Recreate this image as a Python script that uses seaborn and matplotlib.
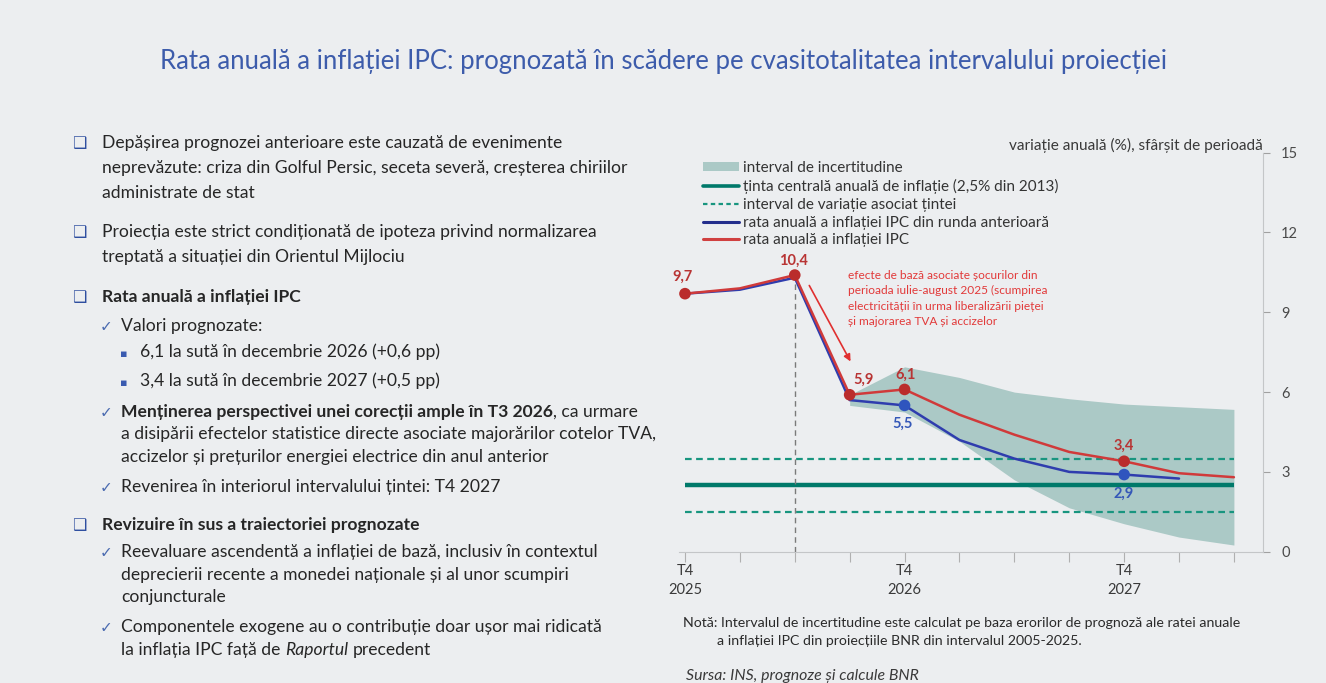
import numpy as np
import pandas as pd
import matplotlib
matplotlib.use('Agg')
import matplotlib.pyplot as plt
import seaborn as sns
from matplotlib.lines import Line2D
from matplotlib.patches import Patch
from matplotlib import font_manager

# ---- chart data ----
quarters = ['T4 2025', 'T1 2026', 'T2 2026', 'T3 2026', 'T4 2026', 'T1 2027',
            'T2 2027', 'T3 2027', 'T4 2027', 'T1 2028', 'T2 2028']
tick_text = ['T4\n2025', '', '', '', 'T4\n2026', '', '', '', 'T4\n2027', '', '']
ipc_current = [9.7, 9.9, 10.4, 5.9, 6.1, 5.15, 4.4, 3.75, 3.4, 2.95, 2.8]
ipc_previous = [9.7, 9.85, 10.3, 5.7, 5.5, 4.2, 3.5, 3.0, 2.9, 2.75]
band_start = 3
band_low = [5.5, 5.25, 4.15, 2.7, 1.65, 1.05, 0.55, 0.25]
band_high = [5.9, 6.95, 6.55, 6.0, 5.75, 5.55, 5.45, 5.35]
target_central = 2.5
target_range = [1.5, 3.5]
current_labelled = [0, 2, 3, 4, 8]
previous_labelled = [4, 8]
projection_mark = 2

legend_labels = ['interval de incertitudine',
                 'ținta centrală anuală de inflație (2,5% din 2013)',
                 'interval de variație asociat țintei',
                 'rata anuală a inflației IPC din runda anterioară',
                 'rata anuală a inflației IPC']

title = 'Rata anuală a inflației IPC: prognozată în scădere pe cvasitotalitatea intervalului proiecției'
note_text = 'efecte de bază asociate șocurilor din\nperioada iulie-august 2025 (scumpirea\nelectricității în urma liberalizării pieței\nși majorarea TVA și accizelor'

# left column: (bullet, y, [(text, weight, style), ...])
body = [
    ('sq', 143, [('Depășirea prognozei anterioare este cauzată de evenimente', 'normal', 'normal')]),
    ('c0', 168, [('neprevăzute: criza din Golful Persic, seceta severă, creșterea chiriilor', 'normal', 'normal')]),
    ('c0', 193, [('administrate de stat', 'normal', 'normal')]),
    ('sq', 232, [('Proiecția este strict condiționată de ipoteza privind normalizarea', 'normal', 'normal')]),
    ('c0', 257, [('treptată a situației din Orientul Mijlociu', 'normal', 'normal')]),
    ('sq', 297, [('Rata anuală a inflației IPC', 'bold', 'normal')]),
    ('ck', 326, [('Valori prognozate:', 'normal', 'normal')]),
    ('dot', 352, [('6,1 la sută în decembrie 2026 (+0,6 pp)', 'normal', 'normal')]),
    ('dot', 381, [('3,4 la sută în decembrie 2027 (+0,5 pp)', 'normal', 'normal')]),
    ('ck', 412, [('Menținerea perspectivei unei corecții ample în T3 2026', 'bold', 'normal'),
                 (', ca urmare', 'normal', 'normal')]),
    ('c1', 434, [('a disipării efectelor statistice directe asociate majorărilor cotelor TVA,', 'normal', 'normal')]),
    ('c1', 457, [('accizelor și prețurilor energiei electrice din anul anterior', 'normal', 'normal')]),
    ('ck', 487, [('Revenirea în interiorul intervalului țintei: T4 2027', 'normal', 'normal')]),
    ('sq', 525, [('Revizuire în sus a traiectoriei prognozate', 'bold', 'normal')]),
    ('ck', 552, [('Reevaluare ascendentă a inflației de bază, inclusiv în contextul', 'normal', 'normal')]),
    ('c1', 575, [('deprecierii recente a monedei naționale și al unor scumpiri', 'normal', 'normal')]),
    ('c1', 597, [('conjuncturale', 'normal', 'normal')]),
    ('ck', 627, [('Componentele exogene au o contribuție doar ușor mai ridicată', 'normal', 'normal')]),
    ('c1', 650, [('la inflația IPC față de', 'normal', 'normal'), ('Raportul', 'normal', 'italic'),
                 ('precedent', 'normal', 'normal')]),
]

W, H = 1326, 683
BG = '#ECEEF0'
BAND = '#ABC9C6'
TEAL = '#00796A'
TEAL_D = '#18957F'
RED = '#D03A3A'
RED_M = '#BA2C2C'
BLUE = '#2F3DAE'
BLUE_M = '#2F55BE'

sns.set_theme(style='white')
plt.rcParams['font.family'] = ['Lato', 'DejaVu Sans']
installed = {f.name for f in font_manager.fontManager.ttflist}
narrow = 'Liberation Sans Narrow' if 'Liberation Sans Narrow' in installed else 'Lato'


def fx(px):
    return px / W


def fy(py):
    return 1 - py / H


fig = plt.figure(figsize=(W / 100, H / 100), dpi=100, facecolor=BG)

# ---- chart ----
ax = fig.add_axes([fx(679.5), fy(551.7), fx(1263) - fx(679.5), fy(152.7) - fy(551.7)])
ax.set_facecolor('none')

pos = np.arange(len(quarters))
ax.fill_between(pos[band_start:band_start + len(band_low)], band_low, band_high,
                color=BAND, lw=0, zorder=1)
ax.hlines(target_central, pos[0], pos[-1], color=TEAL, lw=3.2, zorder=2)
for v in target_range:
    ax.hlines(v, pos[0], pos[-1], color=TEAL_D, lw=1.6, linestyles=(0, (3, 2)), zorder=2)
ax.vlines(pos[projection_mark], 0, ipc_current[projection_mark], colors='#7A7A7A',
          lw=1, linestyles=(0, (4, 3)), zorder=3)

df_cur = pd.DataFrame({'pos': pos[:len(ipc_current)], 'val': ipc_current})
df_prev = pd.DataFrame({'pos': pos[:len(ipc_previous)], 'val': ipc_previous})
sns.lineplot(data=df_prev, x='pos', y='val', color=BLUE, lw=1.8, ax=ax, zorder=4)
sns.lineplot(data=df_cur, x='pos', y='val', color=RED, lw=1.8, ax=ax, zorder=5)
sns.scatterplot(data=df_prev.iloc[previous_labelled], x='pos', y='val', color=BLUE_M,
                s=70, edgecolor='none', ax=ax, zorder=6)
sns.scatterplot(data=df_cur.iloc[current_labelled], x='pos', y='val', color=RED_M,
                s=70, edgecolor='none', ax=ax, zorder=7)


def fmt(v):
    return f'{v:.1f}'.replace('.', ',')


cur_off = {0: (-2, 17), 2: (-1, 14), 3: (14, 15), 4: (1, 15), 8: (0, 15)}
for i in current_labelled:
    ax.annotate(fmt(ipc_current[i]), (pos[i], ipc_current[i]), xytext=cur_off[i],
                textcoords='offset pixels', ha='center', va='center', fontsize=10.5,
                fontweight='bold', color='#B83434', zorder=8)
prev_off = {4: (-2, -18), 8: (0, -19)}
for i in previous_labelled:
    ax.annotate(fmt(ipc_previous[i]), (pos[i], ipc_previous[i]), xytext=prev_off[i],
                textcoords='offset pixels', ha='center', va='center', fontsize=10.5,
                fontweight='bold', color='#3558B8', zorder=8)

ax.annotate('', xy=(3.04, 7.06), xytext=(2.24, 10.1),
            arrowprops=dict(arrowstyle='-|>', color='#E03030', lw=1.2, mutation_scale=10))
ax.text(2.97, 10.6, note_text, color='#E23A3A', fontsize=8.6, va='top', ha='left',
        linespacing=1.5, family=[narrow, 'DejaVu Sans'])

ax.set_xlim(-0.1, 10.53)
ax.set_ylim(0, 15)
ax.set_xlabel('')
ax.set_ylabel('')
ax.yaxis.tick_right()
ax.set_yticks(range(0, 16, 3))
ax.set_xticks(pos)
ax.set_xticklabels(tick_text, linespacing=1.45)
for side in ['left', 'top']:
    ax.spines[side].set_visible(False)
for side in ['right', 'bottom']:
    ax.spines[side].set_color('#C4C6C8')
    ax.spines[side].set_linewidth(0.8)
ax.tick_params(axis='y', length=5, width=0.8, color='#A0A0A0', labelsize=10.5,
               labelcolor='#4A4A4A', pad=8, right=True, left=False)
ax.tick_params(axis='x', length=7, width=0.8, color='#B0B0B0', labelsize=10.5,
               labelcolor='#3A3A3A', pad=2, bottom=True)

fig.text(fx(1263), fy(145), 'variație anuală (%), sfârșit de perioadă', ha='right',
         va='center', fontsize=11.1, color='#3A3A3A')

handles = [Patch(facecolor=BAND, edgecolor='none'),
           Line2D([], [], color=TEAL, lw=2.6),
           Line2D([], [], color=TEAL_D, lw=1.6, ls=(0, (2, 1.5))),
           Line2D([], [], color='#232E8C', lw=2.2),
           Line2D([], [], color='#D04040', lw=2.2)]
fig.legend(handles, legend_labels, loc='upper left', bbox_to_anchor=(fx(703), fy(161)),
           frameon=False, fontsize=11, handlelength=2.35, handleheight=0.55,
           handletextpad=0.3, labelspacing=0.25, borderpad=0, borderaxespad=0,
           labelcolor='#333333')

fig.text(fx(683), fy(627), 'Notă: Intervalul de incertitudine este calculat pe baza erorilor de prognoză ale ratei anuale',
         fontsize=10.2, color='#2A2A2A', va='baseline')
fig.text(fx(717), fy(645), 'a inflației IPC din proiecțiile BNR din intervalul 2005-2025.',
         fontsize=10.2, color='#2A2A2A', va='baseline')
fig.text(fx(686), fy(680), 'Sursa: INS, prognoze și calcule BNR', fontsize=11.4,
         style='italic', color='#3A3A3A', va='baseline')

# ---- title ----
fig.text(fx(663), fy(62), title, ha='center', va='center', fontsize=18.5, color='#3D5CAB')

# ---- left column ----
renderer = fig.canvas.get_renderer()
BODY = 12.6
gap = 0.27 * BODY * 100 / 72
indent = {'sq': 102, 'c0': 102, 'ck': 121, 'c1': 121, 'dot': 140}
marks = {'sq': ('❑', 79, '#2F4FA0', 11.5), 'ck': ('✓', 106, '#4A6AB0', 11),
         'dot': ('▪', 124, '#3A5BB0', 8)}
for kind, y, parts in body:
    base = fy(y + 5)
    if kind in marks:
        sym, mx, mc, ms = marks[kind]
        fig.text(fx(mx), base, sym, ha='center', va='baseline', fontsize=ms, color=mc,
                 family=['DejaVu Sans'])
    x = indent[kind]
    for k, (txt, wt, st) in enumerate(parts):
        t = fig.text(fx(x), base, txt, va='baseline', fontsize=BODY, color='#262626',
                     fontweight=wt, style=st)
        bb = t.get_window_extent(renderer)
        x = bb.x1
        if k + 1 < len(parts) and not parts[k + 1][0].startswith(','):
            x += gap

fig.savefig('out.png', dpi=100, facecolor=BG)
